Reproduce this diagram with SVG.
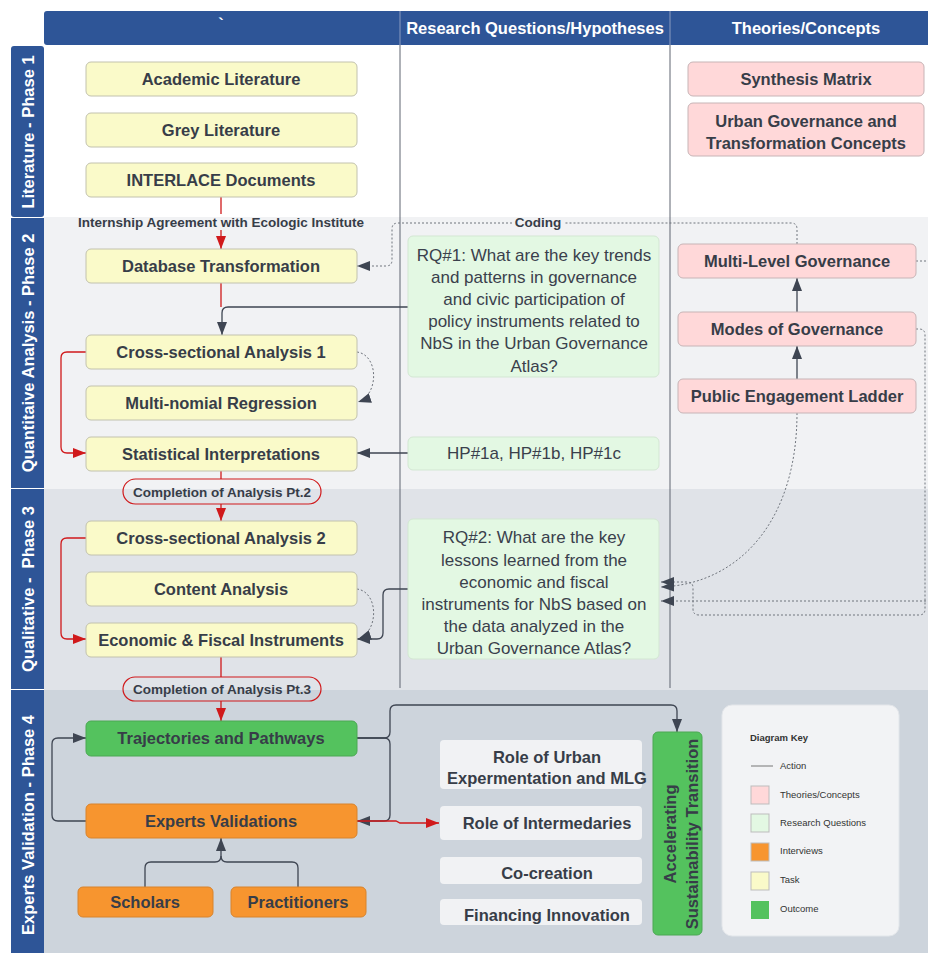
<svg xmlns="http://www.w3.org/2000/svg" width="928" height="953" viewBox="0 0 928 953">
<style>
.task{fill:#FAFAC9;stroke:#C2C2AE;stroke-width:1}
.theory{fill:#FFD8D9;stroke:#C7B4B6;stroke-width:1}
.rq{fill:#E3F8E3;stroke:#D3E7D3;stroke-width:1}
.outcome{fill:#54C25E;stroke:#4AA852;stroke-width:1}
.interview{fill:#F7952F;stroke:#D8832C;stroke-width:1}
.plain{fill:#F1F2F4}
.pill{fill:none;stroke:#D0191B;stroke-width:1.2}
.lbl{font-family:"Liberation Sans",Arial,sans-serif;font-weight:bold;font-size:16.5px;fill:#373D48;text-anchor:middle}
.rqt{font-family:"Liberation Sans",Arial,sans-serif;font-size:17px;fill:#3A404C;text-anchor:middle}
.small{font-family:"Liberation Sans",Arial,sans-serif;font-weight:bold;font-size:13.5px;fill:#373D48;text-anchor:middle}
.hdr{font-family:"Liberation Sans",Arial,sans-serif;font-weight:bold;font-size:16.5px;fill:#FFFFFF;text-anchor:middle}
.lane{fill:#2E5597}
.key{font-family:"Liberation Sans",Arial,sans-serif;font-size:9.5px;fill:#333}
.edge{fill:none;stroke:#3E4552;stroke-width:1.3}
.red{fill:none;stroke:#D0191B;stroke-width:1.3}
.dot{fill:none;stroke:#6F747C;stroke-width:1;stroke-dasharray:2 2}
.sw{stroke:#BDBDBD;stroke-width:1}
</style>
<defs>
<marker id="ad" markerUnits="userSpaceOnUse" markerWidth="13" markerHeight="10" refX="13" refY="5" orient="auto">
<path d="M0,0 L13,5 L0,10 z" fill="#3E4552"/>
</marker>
<marker id="ar" markerUnits="userSpaceOnUse" markerWidth="13" markerHeight="10" refX="13" refY="5" orient="auto">
<path d="M0,0 L13,5 L0,10 z" fill="#D0191B"/>
</marker>
</defs>

<!-- bands -->
<g id="bands">
<rect x="44" y="45" width="884" height="172" fill="#FFFFFF"/>
<rect x="44" y="217" width="884" height="272" fill="#F1F2F4"/>
<rect x="44" y="489" width="884" height="201" fill="#E0E3E8"/>
<rect x="44" y="690" width="884" height="263" fill="#CDD4DC"/>
<line x1="400" y1="45" x2="400" y2="688" stroke="#5E6570" stroke-width="1"/>
<line x1="670" y1="45" x2="670" y2="688" stroke="#5E6570" stroke-width="1"/>
</g>

<!-- header -->
<g id="header">
<rect x="44" y="11" width="900" height="34" rx="3" fill="#2E5597"/>
<line x1="400" y1="11" x2="400" y2="45" stroke="#8A9CC0" stroke-width="1"/>
<line x1="670" y1="11" x2="670" y2="45" stroke="#8A9CC0" stroke-width="1"/>
<text class="hdr" x="221" y="30">`</text>
<text class="hdr" x="535" y="34">Research Questions/Hypotheses</text>
<text class="hdr" x="806" y="34">Theories/Concepts</text>
</g>

<!-- lanes -->
<g id="lanes">
<rect class="lane" x="11" y="46" width="33" height="171" rx="3"/>
<rect class="lane" x="11" y="218" width="33" height="270"/>
<rect class="lane" x="11" y="489" width="33" height="200"/>
<rect class="lane" x="11" y="690" width="33" height="263"/>
<text class="hdr" transform="translate(28,132) rotate(-90)" x="0" y="6">Literature - Phase 1</text>
<text class="hdr" transform="translate(28,353) rotate(-90)" x="0" y="6">Quantitaive Analysis - Phase 2</text>
<text class="hdr" transform="translate(28,589) rotate(-90)" x="0" y="6" xml:space="preserve">Qualitative -  Phase 3</text>
<text class="hdr" transform="translate(28,825) rotate(-90)" x="0" y="6">Experts Validation - Phase 4</text>
</g>

<!-- connectors -->
<g id="connectors">
<path class="red" d="M221 197 V214"/>
<path class="red" d="M221 230 V249" marker-end="url(#ar)"/>
<path class="red" d="M221 283 V307"/>
<path class="edge" d="M408 307 H228 Q222 307 222 313 V335" marker-end="url(#ad)"/>
<path class="red" d="M86 352 H67 Q61 352 61 358 V447 Q61 453 67 453 H86" marker-end="url(#ar)"/>
<path class="dot" d="M357 352 C379 355 379 395 358 402" marker-end="url(#ad)"/>
<path class="edge" d="M408 453 H357" marker-end="url(#ad)"/>
<path class="red" d="M221 470 V479"/>
<path class="red" d="M221 504 V521" marker-end="url(#ar)"/>
<path class="red" d="M86 538 H67 Q61 538 61 544 V633 Q61 639 67 639 H86" marker-end="url(#ar)"/>
<path class="dot" d="M357 589 C379 592 379 632 358 639" marker-end="url(#ad)"/>
<path class="edge" d="M408 589 H389 Q383 589 383 595 V633 Q383 639 377 639 H357" marker-end="url(#ad)"/>
<path class="red" d="M221 656 V677"/>
<path class="red" d="M221 701 V721" marker-end="url(#ar)"/>
<path class="edge" d="M86 821 H58 Q52 821 52 815 V744 Q52 738 58 738 H86" marker-end="url(#ad)"/>
<path class="edge" d="M145 887 V868 Q145 862 151 862 H215 Q221 862 221 856 V838" marker-end="url(#ad)"/>
<path class="edge" d="M298 887 V868 Q298 862 292 862 H227 Q221 862 221 856"/>
<path class="edge" d="M357 738 H384 Q390 738 390 732 V711 Q390 705 396 705 H671 Q677 705 677 711 V732" marker-end="url(#ad)"/>
<path class="edge" d="M357 738 H384 Q390 738 390 744 V815 Q390 821 384 821 H357" marker-end="url(#ad)"/>
<path class="red" d="M357 821 H396 L400 823 H439" marker-end="url(#ar)"/>
<path class="dot" d="M797 244 V229 Q797 223 791 223 H564"/>
<path class="dot" d="M512 223 H398 Q392 223 392 229 V260 Q392 266 386 266 H357" marker-end="url(#ad)"/>
<text class="small" x="538" y="227">Coding</text>
<path class="edge" d="M797 379 V346" marker-end="url(#ad)"/>
<path class="edge" d="M797 312 V278" marker-end="url(#ad)"/>
<path class="dot" d="M916 261 H945 V601 H661" marker-end="url(#ad)"/>
<path class="dot" d="M916 329 H919 Q925 329 925 335 V609 Q925 615 919 615 H699 Q693 615 693 609 V588 Q693 582 687 582 H661" marker-end="url(#ad)"/>
<path class="dot" d="M797 413 C797 520 740 584 661 587" marker-end="url(#ad)"/>
<text class="small" x="221" y="227">Internship Agreement with Ecologic Institute</text>
</g>

<!-- nodes -->
<g id="n-academic"><rect class="task" x="86" y="62" width="271" height="34" rx="5"/><text class="lbl" x="221" y="85">Academic Literature</text></g>
<g id="n-grey"><rect class="task" x="86" y="113" width="271" height="34" rx="5"/><text class="lbl" x="221" y="136">Grey Literature</text></g>
<g id="n-interlace"><rect class="task" x="86" y="163" width="271" height="34" rx="5"/><text class="lbl" x="221" y="186">INTERLACE Documents</text></g>
<g id="n-database"><rect class="task" x="86" y="249" width="271" height="34" rx="5"/><text class="lbl" x="221" y="272">Database Transformation</text></g>
<g id="n-cs1"><rect class="task" x="86" y="335" width="271" height="34" rx="5"/><text class="lbl" x="221" y="358">Cross-sectional Analysis 1</text></g>
<g id="n-mnr"><rect class="task" x="86" y="386" width="271" height="34" rx="5"/><text class="lbl" x="221" y="409">Multi-nomial Regression</text></g>
<g id="n-stat"><rect class="task" x="86" y="437" width="271" height="34" rx="5"/><text class="lbl" x="221" y="460">Statistical Interpretations</text></g>
<g id="n-pill2"><rect class="pill" x="123" y="479" width="198" height="25" rx="12.5"/><text class="small" x="222" y="497">Completion of Analysis Pt.2</text></g>
<g id="n-cs2"><rect class="task" x="86" y="521" width="271" height="34" rx="5"/><text class="lbl" x="221" y="544">Cross-sectional Analysis 2</text></g>
<g id="n-content"><rect class="task" x="86" y="572" width="271" height="34" rx="5"/><text class="lbl" x="221" y="595">Content Analysis</text></g>
<g id="n-efi"><rect class="task" x="86" y="623" width="271" height="34" rx="5"/><text class="lbl" x="221" y="646">Economic &amp; Fiscal Instruments</text></g>
<g id="n-pill3"><rect class="pill" x="123" y="677" width="198" height="24" rx="12"/><text class="small" x="222" y="694">Completion of Analysis Pt.3</text></g>
<g id="n-traj"><rect class="outcome" x="86" y="721" width="271" height="35" rx="5"/><text class="lbl" x="221" y="744">Trajectories and Pathways</text></g>
<g id="n-experts"><rect class="interview" x="86" y="804" width="271" height="34" rx="5"/><text class="lbl" x="221" y="827">Experts Validations</text></g>
<g id="n-scholars"><rect class="interview" x="78" y="887" width="135" height="30" rx="5"/><text class="lbl" x="145" y="908">Scholars</text></g>
<g id="n-practitioners"><rect class="interview" x="231" y="887" width="135" height="30" rx="5"/><text class="lbl" x="298" y="908">Practitioners</text></g>

<g id="n-rq1"><rect class="rq" x="408" y="236" width="251" height="141" rx="5"/>
<text class="rqt" x="534" y="261">RQ#1: What are the key trends</text>
<text class="rqt" x="534" y="283">and patterns in governance</text>
<text class="rqt" x="534" y="305">and civic participation of</text>
<text class="rqt" x="534" y="327">policy instruments related to</text>
<text class="rqt" x="534" y="349">NbS in the Urban Governance</text>
<text class="rqt" x="534" y="372">Atlas?</text></g>
<g id="n-hp"><rect class="rq" x="408" y="437" width="251" height="33" rx="5"/><text class="rqt" x="534" y="459">HP#1a, HP#1b, HP#1c</text></g>
<g id="n-rq2"><rect class="rq" x="408" y="519" width="251" height="140" rx="5"/>
<text class="rqt" x="534" y="543">RQ#2: What are the key</text>
<text class="rqt" x="534" y="566">lessons learned from the</text>
<text class="rqt" x="534" y="588">economic and fiscal</text>
<text class="rqt" x="534" y="610">instruments for NbS based on</text>
<text class="rqt" x="534" y="632">the data analyzed in the</text>
<text class="rqt" x="534" y="654">Urban Governance Atlas?</text></g>

<g id="n-synthesis"><rect class="theory" x="688" y="62" width="236" height="34" rx="5"/><text class="lbl" x="806" y="85">Synthesis Matrix</text></g>
<g id="n-urban"><rect class="theory" x="688" y="103" width="236" height="53" rx="5"/><text class="lbl" x="806" y="127">Urban Governance and</text><text class="lbl" x="806" y="149">Transformation Concepts</text></g>
<g id="n-mlg"><rect class="theory" x="678" y="244" width="238" height="34" rx="5"/><text class="lbl" x="797" y="267">Multi-Level Governance</text></g>
<g id="n-mog"><rect class="theory" x="678" y="312" width="238" height="34" rx="5"/><text class="lbl" x="797" y="335">Modes of Governance</text></g>
<g id="n-pel"><rect class="theory" x="678" y="379" width="238" height="34" rx="5"/><text class="lbl" x="797" y="402">Public Engagement Ladder</text></g>

<g id="n-roleurban"><rect class="plain" x="440" y="740" width="202" height="49" rx="4"/><text class="lbl" x="547" y="763">Role of Urban</text><text class="lbl" x="547" y="784">Expermentation and MLG</text></g>
<g id="n-roleinter"><rect class="plain" x="440" y="806" width="202" height="34" rx="4"/><text class="lbl" x="547" y="829">Role of Intermedaries</text></g>
<g id="n-cocreation"><rect class="plain" x="440" y="857" width="202" height="27" rx="4"/><text class="lbl" x="547" y="879">Co-creation</text></g>
<g id="n-financing"><rect class="plain" x="440" y="899" width="202" height="26" rx="4"/><text class="lbl" x="547" y="921">Financing Innovation</text></g>

<g id="n-accel"><rect class="outcome" x="653" y="732" width="49" height="203" rx="5"/>
<text class="lbl" transform="translate(670,834) rotate(-90)" x="0" y="6">Accelerating</text>
<text class="lbl" transform="translate(692,834) rotate(-90)" x="0" y="6">Sustainability Transition</text></g>

<g id="key">
<rect x="722" y="705" width="177" height="231" rx="10" fill="#F2F3F5" stroke="#E3E6EA" stroke-width="1"/>
<text class="key" x="750" y="741" font-weight="bold" font-size="10.5px" fill="#111">Diagram Key</text>
<line x1="751" y1="766" x2="773" y2="766" stroke="#777" stroke-width="1"/>
<text class="key" x="780" y="769">Action</text>
<rect class="sw" x="751" y="786" width="18" height="18" fill="#FFD8D9"/>
<text class="key" x="780" y="798">Theories/Concepts</text>
<rect class="sw" x="751" y="814" width="18" height="18" fill="#E3F8E3"/>
<text class="key" x="780" y="826">Research Questions</text>
<rect class="sw" x="751" y="843" width="18" height="18" fill="#F7952F"/>
<text class="key" x="780" y="854">Interviews</text>
<rect class="sw" x="751" y="872" width="18" height="18" fill="#FAFAC9"/>
<text class="key" x="780" y="883">Task</text>
<rect x="751" y="901" width="18" height="18" fill="#54C25E"/>
<text class="key" x="780" y="912">Outcome</text>
</g>
</svg>
